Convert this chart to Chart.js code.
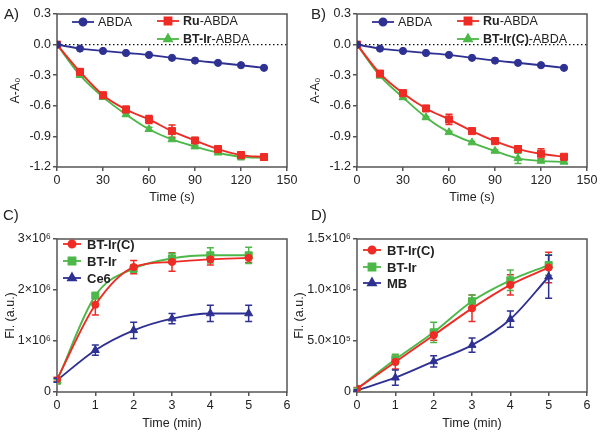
<!DOCTYPE html>
<html>
<head>
<meta charset="utf-8">
<script src="https://cdn.jsdelivr.net/npm/chart.js@4"></script>
<style>
  body { margin: 0; background: #fff; font-family: "Liberation Sans", Arial, sans-serif; }
  #page { position: relative; width: 600px; height: 433px; overflow: hidden; }
  canvas { position: absolute; }
  .tag { position: absolute; font-size: 15px; color: #222; }
</style>
</head>
<body>
<div id="page">
  <canvas id="chartA" width="300" height="215" style="left:0;top:0"></canvas>
  <canvas id="chartB" width="300" height="215" style="left:300px;top:0"></canvas>
  <canvas id="chartC" width="300" height="218" style="left:0;top:215px"></canvas>
  <canvas id="chartD" width="312" height="218" style="left:288px;top:215px"></canvas>
  <div class="tag" style="left:4px;top:5px">A)</div>
  <div class="tag" style="left:311px;top:5px">B)</div>
  <div class="tag" style="left:3px;top:206px">C)</div>
  <div class="tag" style="left:311px;top:206px">D)</div>
</div>
<script>
// ---- data ----
const timeS = [0, 15, 30, 45, 60, 75, 90, 105, 120, 135];
const timeMin = [0, 1, 2, 3, 4, 5];

// panel A
const abdaA = [0, -0.039, -0.062, -0.082, -0.101, -0.13, -0.157, -0.179, -0.202, -0.228];
const ruA = [0, -0.267, -0.496, -0.636, -0.734, -0.848, -0.94, -1.024, -1.083, -1.102];
const ruErrA = [0, 0.03, 0.015, 0.03, 0.04, 0.06, 0.015, 0.02, 0.03, 0.01];
const btIrA = [0, -0.3, -0.515, -0.685, -0.83, -0.93, -1.0, -1.06, -1.1, -1.11];
const btIrErrA = [0, 0.01, 0.01, 0.015, 0.02, 0.01, 0.01, 0.015, 0.03, 0.01];

// panel B
const abdaB = [0, -0.039, -0.062, -0.082, -0.101, -0.13, -0.157, -0.179, -0.202, -0.228];
const ruB = [0, -0.284, -0.476, -0.626, -0.734, -0.848, -0.946, -1.024, -1.07, -1.1];
const ruErrB = [0, 0.01, 0.015, 0.015, 0.05, 0.015, 0.01, 0.03, 0.05, 0.01];
const btIrCB = [0, -0.307, -0.518, -0.714, -0.86, -0.96, -1.043, -1.115, -1.14, -1.15];
const btIrCErrB = [0, 0.01, 0.01, 0.01, 0.01, 0.01, 0.01, 0.05, 0.015, 0.01];

// panel C
const btIrCC = [0.25e6, 1.71e6, 2.45e6, 2.55e6, 2.6e6, 2.63e6];
const btIrCErrC = [0.04e6, 0.2e6, 0.13e6, 0.18e6, 0.11e6, 0.09e6];
const btIrC = [0.22e6, 1.89e6, 2.42e6, 2.62e6, 2.68e6, 2.68e6];
const btIrErrC = [0.03e6, 0.05e6, 0.07e6, 0.1e6, 0.15e6, 0.16e6];
const ce6C = [0.23e6, 0.82e6, 1.21e6, 1.44e6, 1.54e6, 1.54e6];
const ce6ErrC = [0.04e6, 0.1e6, 0.16e6, 0.1e6, 0.16e6, 0.16e6];

// panel D
const btIrCD = [0.033e6, 0.295e6, 0.557e6, 0.82e6, 1.05e6, 1.22e6];
const btIrCErrD = [0.01e6, 0.07e6, 0.05e6, 0.13e6, 0.1e6, 0.15e6];
const btIrD = [0.03e6, 0.32e6, 0.585e6, 0.89e6, 1.095e6, 1.245e6];
const btIrErrD = [0.01e6, 0.05e6, 0.1e6, 0.06e6, 0.1e6, 0.1e6];
const mbD = [0.016e6, 0.14e6, 0.3e6, 0.46e6, 0.714e6, 1.13e6];
const mbErrD = [0.005e6, 0.075e6, 0.055e6, 0.07e6, 0.08e6, 0.21e6];

// ticks
const xTicksS = [0, 30, 60, 90, 120, 150];
const yTicksAB = [-1.2, -0.9, -0.6, -0.3, 0, 0.3];
const yTickTextAB = ['-1.2', '-0.9', '-0.6', '-0.3', '0.0', '0.3'];
const xTicksMin = [0, 1, 2, 3, 4, 5, 6];
const yTicksC = [0, 1e6, 2e6, 3e6];
const yTickTextC = ['0', '1\u00d710\u2076', '2\u00d710\u2076', '3\u00d710\u2076'];
const yTicksD = [0, 0.5e6, 1e6, 1.5e6];
const yTickTextD = ['0', '5.0\u00d710\u2075', '1.0\u00d710\u2076', '1.5\u00d710\u2076'];

const NAVY = '#2e3192';
const RED = '#ee2b25';
const GREEN = '#4cb848';
const INK = '#222';
const AXIS = '#555';
const FONT = '"Liberation Sans", Arial, sans-serif';
const radius = { circle: 3.6, rect: 5, triangle: 4.6 };

// frame around plot + dotted zero line
const framePlugin = {
  id: 'frame',
  beforeDatasetsDraw(chart, args, opts) {
    const { ctx, chartArea: a } = chart;
    ctx.save();
    if (opts.zero) {
      const y0 = chart.scales.y.getPixelForValue(0);
      ctx.strokeStyle = '#111';
      ctx.lineWidth = 1.3;
      ctx.setLineDash([1.5, 2.5]);
      ctx.beginPath();
      ctx.moveTo(a.left, y0);
      ctx.lineTo(a.right, y0);
      ctx.stroke();
      ctx.setLineDash([]);
    }
    ctx.strokeStyle = AXIS;
    ctx.lineWidth = 1.5;
    ctx.strokeRect(a.left, a.top, a.right - a.left, a.bottom - a.top);
    ctx.restore();
  }
};

// error bars from dataset.errors
const errorBarPlugin = {
  id: 'errbars',
  beforeDatasetsDraw(chart) {
    const ctx = chart.ctx;
    const ys = chart.scales.y;
    chart.data.datasets.forEach((ds, i) => {
      const meta = chart.getDatasetMeta(i);
      if (!ds.errors) return;
      ctx.save();
      ctx.strokeStyle = ds.borderColor;
      ctx.lineWidth = 1.5;
      meta.data.forEach((pt, j) => {
        const e = ds.errors[j];
        if (!e) return;
        const v = ds.data[j].y;
        const top = ys.getPixelForValue(v + e);
        const bot = ys.getPixelForValue(v - e);
        ctx.beginPath();
        ctx.moveTo(pt.x, top); ctx.lineTo(pt.x, bot);
        ctx.moveTo(pt.x - 3.5, top); ctx.lineTo(pt.x + 3.5, top);
        ctx.moveTo(pt.x - 3.5, bot); ctx.lineTo(pt.x + 3.5, bot);
        ctx.stroke();
      });
      ctx.restore();
    });
  }
};

// legend placed inside the plot, text with bold parts marked by *
const legendPlugin = {
  id: 'panelLegend',
  afterDraw(chart, args, opts) {
    const ctx = chart.ctx;
    opts.items.forEach((it, i) => {
      const ds = chart.data.datasets[i];
      ctx.save();
      ctx.strokeStyle = ds.borderColor;
      ctx.fillStyle = ds.backgroundColor;
      ctx.lineWidth = 1.8;
      ctx.beginPath();
      ctx.moveTo(it[0], it[1]);
      ctx.lineTo(it[0] + opts.len, it[1]);
      ctx.stroke();
      Chart.helpers.drawPoint(ctx, { pointStyle: ds.pointStyle, radius: ds.pointRadius, borderWidth: 1 }, it[0] + opts.len / 2, it[1]);
      let tx = it[0] + opts.len + opts.gap;
      ctx.fillStyle = INK;
      ctx.textBaseline = 'middle';
      ds.markup.split('*').forEach((part, k) => {
        if (!part) return;
        const bold = opts.bold || k % 2 === 1;
        ctx.font = (bold ? 'bold ' : '') + opts.size + 'px ' + FONT;
        ctx.fillText(part, tx, it[1] + 1);
        tx += ctx.measureText(part).width;
      });
      ctx.restore();
    });
  }
};

function series(markup, y, err, color, shape) {
  return { markup, y, err, color, shape };
}

function panel(id, c) {
  return new Chart(document.getElementById(id), {
    type: 'line',
    data: {
      datasets: c.series.map(s => ({
        label: s.markup.replace(/\*/g, ''),
        markup: s.markup,
        data: c.x.map((x, i) => ({ x: x, y: s.y[i] })),
        errors: s.err,
        borderColor: s.color,
        backgroundColor: s.color,
        pointStyle: s.shape,
        pointRadius: radius[s.shape],
        pointBorderWidth: 1,
        borderWidth: 1.9,
        cubicInterpolationMode: 'monotone'
      }))
    },
    options: {
      responsive: false,
      animation: false,
      events: [],
      layout: { padding: { top: c.top, right: c.right, left: 0, bottom: 0 } },
      plugins: {
        legend: { display: false },
        tooltip: { enabled: false },
        frame: { zero: c.zero },
        panelLegend: c.legend
      },
      scales: {
        x: {
          type: 'linear',
          min: c.xTicks[0],
          max: c.xTicks[c.xTicks.length - 1],
          afterBuildTicks: s => { s.ticks = c.xTicks.map(v => ({ value: v })); },
          afterFit: s => { s.height = c.xh; },
          border: { display: false },
          grid: { drawOnChartArea: false, drawTicks: true, tickLength: 4, color: AXIS, lineWidth: 1.5 },
          ticks: { color: INK, font: { family: FONT, size: 12.5 }, padding: 2, maxRotation: 0 },
          title: { display: true, text: c.xTitle, color: INK, font: { family: FONT, size: 12.5 }, padding: { top: 0, bottom: c.xtp } }
        },
        y: {
          type: 'linear',
          min: c.yTicks[0],
          max: c.yTicks[c.yTicks.length - 1],
          afterBuildTicks: s => { s.ticks = c.yTicks.map(v => ({ value: v })); },
          afterFit: s => { s.width = c.yw; },
          border: { display: false },
          grid: { drawOnChartArea: false, drawTicks: true, tickLength: 4, color: AXIS, lineWidth: 1.5 },
          ticks: {
            color: INK, font: { family: FONT, size: 12.5 }, padding: 2,
            callback: v => c.yText[c.yTicks.indexOf(v)]
          },
          title: { display: true, text: c.yTitle, color: INK, font: { family: FONT, size: 12.5 }, padding: { top: c.ytp, bottom: 0 } }
        }
      }
    },
    plugins: [framePlugin, errorBarPlugin, legendPlugin]
  });
}

panel('chartA', {
  x: timeS, xTicks: xTicksS, yTicks: yTicksAB, yText: yTickTextAB,
  xTitle: 'Time (s)', yTitle: 'A-A\u2080', zero: true,
  top: 14, right: 13, yw: 57, xh: 48, xtp: 10, ytp: 8,
  series: [
    series('ABDA', abdaA, null, NAVY, 'circle'),
    series('*Ru*-ABDA', ruA, ruErrA, RED, 'rect'),
    series('*BT-Ir*-ABDA', btIrA, btIrErrA, GREEN, 'triangle')
  ],
  legend: { items: [[72, 22], [157, 21], [157, 39]], len: 22, gap: 4, size: 12.5, bold: false }
});

panel('chartB', {
  x: timeS, xTicks: xTicksS, yTicks: yTicksAB, yText: yTickTextAB,
  xTitle: 'Time (s)', yTitle: 'A-A\u2080', zero: true,
  top: 14, right: 13, yw: 57, xh: 48, xtp: 10, ytp: 8,
  series: [
    series('ABDA', abdaB, null, NAVY, 'circle'),
    series('*Ru*-ABDA', ruB, ruErrB, RED, 'rect'),
    series('*BT-Ir(C)*-ABDA', btIrCB, btIrCErrB, GREEN, 'triangle')
  ],
  legend: { items: [[72, 22], [157, 21], [157, 39]], len: 22, gap: 4, size: 12.5, bold: false }
});

panel('chartC', {
  x: timeMin, xTicks: xTicksMin, yTicks: yTicksC, yText: yTickTextC,
  xTitle: 'Time (min)', yTitle: 'Fl. (a.u.)', zero: false,
  top: 24, right: 13, yw: 57, xh: 41, xtp: 2, ytp: 3,
  series: [
    series('BT-Ir(C)', btIrCC, btIrCErrC, RED, 'circle'),
    series('BT-Ir', btIrC, btIrErrC, GREEN, 'rect'),
    series('Ce6', ce6C, ce6ErrC, NAVY, 'triangle')
  ],
  legend: { items: [[63, 29], [63, 46], [63, 63]], len: 18, gap: 6, size: 13, bold: true }
});

panel('chartD', {
  x: timeMin, xTicks: xTicksMin, yTicks: yTicksD, yText: yTickTextD,
  xTitle: 'Time (min)', yTitle: 'Fl. (a.u.)', zero: false,
  top: 24, right: 13, yw: 69, xh: 41, xtp: 2, ytp: 4,
  series: [
    series('BT-Ir(C)', btIrCD, btIrCErrD, RED, 'circle'),
    series('BT-Ir', btIrD, btIrErrD, GREEN, 'rect'),
    series('MB', mbD, mbErrD, NAVY, 'triangle')
  ],
  legend: { items: [[75, 35], [75, 52], [75, 68]], len: 18, gap: 6, size: 13, bold: true }
});
</script>
</body>
</html>
